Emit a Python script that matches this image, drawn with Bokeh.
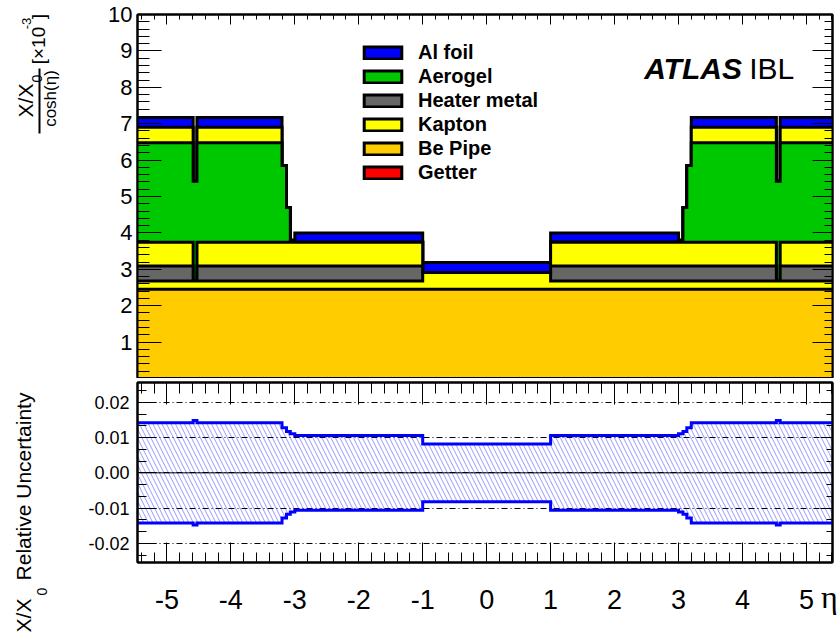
import numpy as np
from math import pi
from bokeh.plotting import figure
from bokeh.layouts import column, row
from bokeh.models import (Range1d, LinearAxis, SingleIntervalTicker, Label, Legend, LegendItem,
                          CustomJSTickFormatter, PrintfTickFormatter, Span, Grid,
                          CustomLabelingPolicy)
from bokeh.embed import file_html
from bokeh.resources import INLINE

# ---------------- data (X/X0 / cosh(eta) in units of 1e-3) ----------------
eta_edges = [-5.5, -4.59, -4.53, -3.2, -3.13, -3.07, -3.0, -1.0, 1.0, 3.0, 3.07, 3.13, 3.2, 4.53, 4.59, 5.5]
getter       = [0, 0, 0, 0, 0, 0, 0, 0, 0, 0, 0, 0, 0, 0, 0]
be_pipe      = [2.45, 2.45, 2.45, 2.45, 2.45, 2.45, 2.45, 2.45, 2.45, 2.45, 2.45, 2.45, 2.45, 2.45, 2.45]
kapton_inner = [0.23, 0.23, 0.23, 0.23, 0.23, 0.23, 0.23, 0.46, 0.23, 0.23, 0.23, 0.23, 0.23, 0.23, 0.23]
heater_metal = [0.41, 0.0, 0.41, 0.41, 0.41, 0.41, 0.41, 0.0, 0.41, 0.41, 0.41, 0.41, 0.41, 0.0, 0.41]
kapton_mid   = [0.65, 0.0, 0.65, 0.65, 0.65, 0.65, 0.65, 0.0, 0.65, 0.65, 0.65, 0.65, 0.65, 0.0, 0.65]
aerogel      = [2.74, 2.74, 2.74, 2.11, 0.96, 0.06, 0.0, 0.0, 0.0, 0.06, 0.96, 2.11, 2.74, 2.74, 2.74]
kapton_outer = [0.42, 0.0, 0.42, 0.0, 0.0, 0.0, 0.0, 0.0, 0.0, 0.0, 0.0, 0.0, 0.42, 0.0, 0.42]
al_foil      = [0.27, 0.0, 0.27, 0.0, 0.0, 0.0, 0.26, 0.28, 0.26, 0.0, 0.0, 0.0, 0.27, 0.0, 0.27]
rel_unc      = [0.0142, 0.0148, 0.0142, 0.0128, 0.0117, 0.0111, 0.0106, 0.0082,
                0.0106, 0.0111, 0.0117, 0.0128, 0.0142, 0.0148, 0.0142]

layer_names  = ["Getter", "Be Pipe", "Kapton", "Heater metal", "Kapton", "Aerogel", "Kapton", "Al foil"]
layer_values = [getter, be_pipe, kapton_inner, heater_metal, kapton_mid, aerogel, kapton_outer, al_foil]
layer_colors = ["#FF0000", "#FFCC00", "#FFFF00", "#666666", "#FFFF00", "#00C800", "#FFFF00", "#0000FF"]
legend_order = ["Al foil", "Aerogel", "Heater metal", "Kapton", "Be Pipe", "Getter"]

# ---------------- layout geometry (page pixels) ----------------
W, H = 838, 634
TW = 64                      # width of the strip holding the y titles
RB = 0                       # right border
PX_L, PX_R = 137, W - RB
SX = 64.5
X0 = -5.46
X1 = X0 + (PX_R - PX_L) / SX
TOP_T, TOP_B = 14, 378
BOT_T, BOT_B = 378, 562
YB0, YB1 = -0.0254, 0.0256
FONT = "Liberation Sans"
hide_labels = CustomLabelingPolicy(code="""
for (const i of indices) indices.unset(i)
return indices
""")

def ty(py):
    return 10 - (py - TOP_T) * 10.0 / (TOP_B - TOP_T)

edges = np.array(eta_edges)
xs_step = np.repeat(edges, 2)

def bare_axis(ticker, tin, tmin):
    return LinearAxis(ticker=ticker, major_tick_in=tin, major_tick_out=0,
                      minor_tick_in=tmin, minor_tick_out=0,
                      major_label_text_font_size="1px", major_label_standoff=0,
                      major_label_policy=hide_labels, axis_line_width=2)

# ---------------- top panel ----------------
p1 = figure(width=W - TW, height=TOP_B, x_range=Range1d(X0, X1), y_range=Range1d(0, 10),
            output_backend="svg", toolbar_location=None,
            x_axis_location=None, y_axis_location=None,
            min_border_left=PX_L - TW, min_border_right=RB,
            min_border_top=TOP_T, min_border_bottom=0)
p1.grid.visible = False
p1.outline_line_color = "black"
p1.outline_line_width = 2

cum = np.cumsum(np.array(layer_values, dtype=float), axis=0)
renderers = {}
for i in range(len(layer_values) - 1, -1, -1):
    ys = np.concatenate([[0.0], np.repeat(cum[i], 2), [0.0]])
    r = p1.patch(xs_step, ys, fill_color=layer_colors[i], line_color="black",
                 line_width=3, line_join="miter")
    if layer_names[i] not in renderers:
        renderers[layer_names[i]] = r

items = [LegendItem(label=n, renderers=[renderers[n]]) for n in legend_order]
legend = Legend(items=items, location=(222, 194), padding=0, margin=0,
                glyph_width=47, glyph_height=15, label_height=15, spacing=1,
                label_standoff=12, border_line_alpha=0, background_fill_alpha=0,
                label_text_font=FONT, label_text_font_style="bold",
                label_text_font_size="20px", label_text_color="black")
p1.add_layout(legend, "center")

ax_l = LinearAxis(ticker=SingleIntervalTicker(interval=1, num_minor_ticks=5),
                  formatter=CustomJSTickFormatter(code="return tick < 0.5 ? '' : tick.toFixed(0)"),
                  major_tick_in=24, major_tick_out=0, minor_tick_in=12, minor_tick_out=0,
                  major_label_text_font=FONT, major_label_text_font_size="22px",
                  major_label_text_color="black",
                  major_label_standoff=5, axis_line_width=2)
p1.add_layout(ax_l, "left")
p1.add_layout(bare_axis(SingleIntervalTicker(interval=1, num_minor_ticks=5), 10, 5), "above")
p1.add_layout(bare_axis(SingleIntervalTicker(interval=1, num_minor_ticks=5), 20, 8), "right")

p1.add_layout(Label(x=X0 + (648 - PX_L) / SX, y=ty(68), text="ATLAS", text_align="left",
                    text_baseline="alphabetic", text_font=FONT, text_font_size="30px",
                    text_font_style="bold italic", text_color="black"))
p1.add_layout(Label(x=X0 + (754 - PX_L) / SX, y=ty(68), text="IBL", text_align="left",
                    text_baseline="alphabetic", text_font=FONT, text_font_size="30px",
                    text_color="black"))

# ---------------- bottom panel ----------------
p2 = figure(width=W - TW, height=H - BOT_T, x_range=p1.x_range, y_range=Range1d(YB0, YB1),
            output_backend="svg", toolbar_location=None,
            x_axis_location=None, y_axis_location=None,
            min_border_left=PX_L - TW, min_border_right=RB,
            min_border_top=0, min_border_bottom=H - BOT_B)
p2.grid.visible = False
p2.outline_line_color = "black"
p2.outline_line_width = 2

ygrid = Grid(dimension=1, ticker=SingleIntervalTicker(interval=0.01),
             grid_line_color="black", grid_line_dash="6 3 1 3", grid_line_width=1)
p2.add_layout(ygrid)
p2.add_layout(Span(location=0, dimension="width", line_color="black", line_width=1))

unc = np.array(rel_unc)
p2.quad(left=edges[:-1], right=edges[1:], top=unc, bottom=-unc,
        fill_alpha=0, line_alpha=0, hatch_pattern="\\", hatch_color="#0000FF",
        hatch_alpha=0.4, hatch_scale=9, hatch_weight=1)
ys_up = np.concatenate([[YB0], np.repeat(unc, 2), [YB0]])
ys_dn = np.concatenate([[YB0], np.repeat(-unc, 2), [YB0]])
p2.line(xs_step, ys_up, line_color="#0000FF", line_width=3, line_join="miter")
p2.line(xs_step, ys_dn, line_color="#0000FF", line_width=3, line_join="miter")

bx_b = LinearAxis(ticker=SingleIntervalTicker(interval=1, num_minor_ticks=5),
                  formatter=PrintfTickFormatter(format="%d"),
                  major_tick_in=20, major_tick_out=0, minor_tick_in=10, minor_tick_out=0,
                  major_label_text_font=FONT, major_label_text_font_size="27px",
                  major_label_text_color="black",
                  major_label_standoff=27, axis_label_standoff=-33, axis_line_width=2,
                  axis_label="\u03b7\u2009", axis_label_text_font="Liberation Serif",
                  axis_label_text_font_size="32px", axis_label_text_font_style="normal",
                  axis_label_text_color="black")
if "axis_label_align" in LinearAxis.properties():
    bx_b.axis_label_align = "end"
p2.add_layout(bx_b, "below")
p2.add_layout(bare_axis(SingleIntervalTicker(interval=1, num_minor_ticks=5), 22, 11), "above")
by_l = LinearAxis(ticker=SingleIntervalTicker(interval=0.01, num_minor_ticks=3),
                  formatter=PrintfTickFormatter(format="%.2f"),
                  major_tick_in=19, major_tick_out=0, minor_tick_in=9, minor_tick_out=0,
                  major_label_text_font=FONT, major_label_text_font_size="18px",
                  major_label_text_color="black",
                  major_label_standoff=8, axis_line_width=2)
p2.add_layout(by_l, "left")
p2.add_layout(bare_axis(SingleIntervalTicker(interval=0.01, num_minor_ticks=3), 12, 6), "right")

# ---------------- strip with the y-axis titles (data units = page pixels) ----------------
pt = figure(width=TW, height=H, x_range=Range1d(0, TW), y_range=Range1d(H, 0),
            output_backend="svg", toolbar_location=None,
            x_axis_location=None, y_axis_location=None,
            min_border=0, outline_line_color=None)
pt.grid.visible = False

def tlab(x, y, text, size):
    pt.add_layout(Label(x=x, y=y, text=text, angle=pi / 2, text_align="center",
                        text_baseline="middle", text_font=FONT, text_font_size=size,
                        text_color="black"))

tlab(25, 100, "X/X", "21px")
tlab(36, 78, "0", "14px")
pt.segment(x0=[39], y0=[68], x1=[39], y1=[133], line_color="black", line_width=2)
tlab(50, 98, "cosh(\u03b7)", "17px")
tlab(38, 45, "[\u00d710", "19px")
tlab(26, 23, "-3", "13px")
tlab(38, 16, "]", "19px")

tlab(23, 615, "X/X", "21px")
tlab(41, 591, "0", "14px")
tlab(23, 486, "Relative Uncertainty", "21px")

layout = row(pt, column(p1, p2, spacing=0), spacing=0)
open("out.html", "w").write(file_html(layout, INLINE))
